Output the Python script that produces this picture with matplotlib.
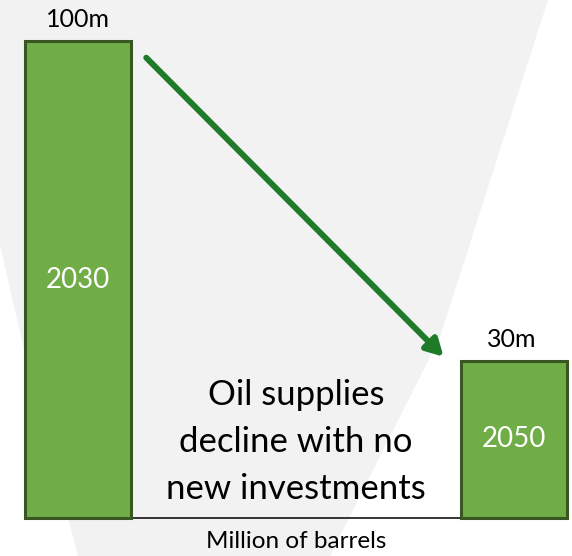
import matplotlib.pyplot as plt
from matplotlib.patches import Polygon

# Data
years = ["2030", "2050"]
supply = [100, 33]          # bar heights as drawn
supply_labels = ["100m", "30m"]
note = "Oil supplies\ndecline with no\nnew investments"
axis_title = "Million of barrels"

bar_fill = "#70ad47"
bar_edge = "#385723"
arrow_col = "#1f7a2a"
plt.rcParams["font.family"] = ["Lato", "DejaVu Sans"]

fig = plt.figure(figsize=(5.72, 5.56), dpi=100)
fig.patch.set_facecolor("white")

ax = fig.add_axes([0, 0, 1, 1])
ax.set_facecolor("none")
xpos = list(range(len(years)))
ax.set_xlim(-0.179, 1.133)
ax.set_ylim(-7.97, 108.6)
ax.axis("off")

# faint V watermark behind everything (axes fraction = figure fraction here)
W, H = 572.0, 556.0
v_pts = [(0, 0), (548, 0), (440, 337), (330, 556), (78, 556), (24, 350), (0, 245)]
ax.add_patch(Polygon([(x / W, 1 - y / H) for x, y in v_pts], closed=True,
                     transform=ax.transAxes, facecolor="#f2f2f2",
                     edgecolor="none", zorder=0))

bars = ax.bar(xpos, supply, width=0.243, color=bar_fill, edgecolor=bar_edge,
              linewidth=2.2, zorder=3)

# baseline between bar centres
ax.plot([xpos[0], xpos[-1]], [0, 0], color="black", lw=1.1, zorder=2)

for x, v, yr, lab in zip(xpos, supply, years, supply_labels):
    ax.text(x, v / 2, yr, color="white", ha="center", va="center", fontsize=20, zorder=4)
    ax.annotate(lab, (x, v), xytext=(-2 * x, 7), textcoords="offset points",
                ha="center", va="bottom", fontsize=18)

# arrow from the first bar down to the second
b0, b1 = bars[0], bars[1]
start = (b0.get_x() + b0.get_width() + 0.035, supply[0] - 3.5)
end = (b1.get_x() - 0.04, supply[1] + 0.8)
ax.annotate("", xy=end, xytext=start,
            arrowprops=dict(arrowstyle="-|>,head_length=1.0,head_width=0.55",
                            color=arrow_col, lw=4.3, shrinkA=0, shrinkB=0))

mid = (xpos[0] + xpos[-1]) / 2
ax.text(mid, 15.9, note, ha="center", va="center", fontsize=25, linespacing=1.57)
ax.text(mid, -5, axis_title, ha="center", va="center", fontsize=17.5)

fig.savefig("out.png", dpi=100)
